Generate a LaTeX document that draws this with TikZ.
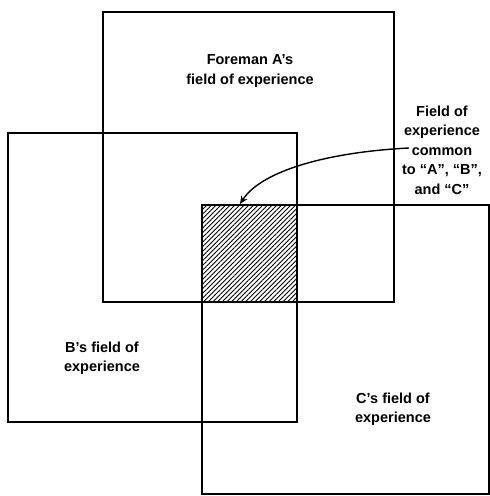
\documentclass[tikz,border=0pt]{standalone}
\usepackage{fontspec}
\setmainfont{Liberation Sans}
\usetikzlibrary{patterns.meta,arrows.meta}
\begin{document}
\begin{tikzpicture}[x=1pt,y=-1pt,
  field/.style={draw=black,line width=1.8pt,line join=miter},
  lbl/.style={align=center,inner sep=0pt,font=\fontsize{14.5}{19.5}\selectfont\bfseries},
  hatch/.style={pattern={Lines[angle=45,distance=3.3pt,line width=0.9pt]}}]
\useasboundingbox (0,0) rectangle (490,496);
% boxes
\draw[field] (103,12) rectangle (394,302);
\draw[field] (8,133) rectangle (297,422);
\draw[field] (202,205) rectangle (489,494);
\fill[hatch] (202,205) rectangle (297,302);
\draw[field] (202,205) rectangle (297,302);
\coordinate (common) at (249.5,253.5);
\coordinate (tip) at (240,204);
% labels
\node[lbl] (la) at (250,71) {Foreman A's\\field of experience};
\node[lbl] (lb) at (102,358) {B's field of\\experience};
\node[lbl] (lc) at (393,409) {C's field of\\experience};
\node[lbl] (lcom) at (442,150) {Field of\\experience\\common\\to ``A'', ``B'',\\and ``C''};
\coordinate (start) at (409,148);
\draw[line width=1.4pt,-{Stealth[length=8pt,width=7pt,inset=2.5pt]}]
  (start) .. controls (330,152) and (262,170) .. (tip);
\end{tikzpicture}
\end{document}
